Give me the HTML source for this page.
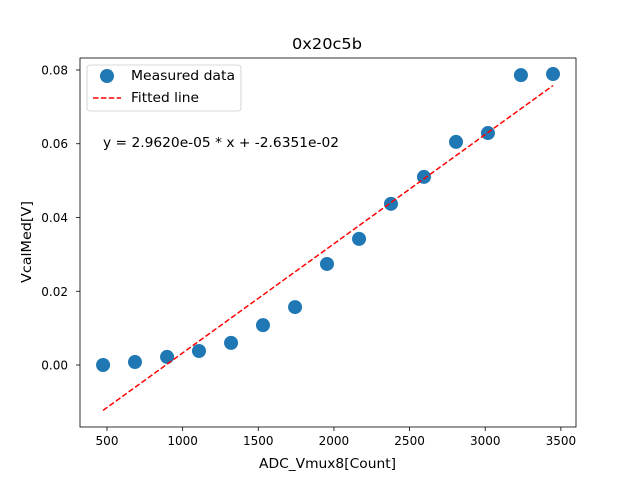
<!DOCTYPE html>
<html><head><meta charset="utf-8"><style>body{margin:0;background:#fff}svg{display:block;font-family:"DejaVu Sans","Liberation Sans",sans-serif}</style></head>
<body>
<svg id="chart" width="640" height="480"></svg>
<script>
const xValues=[474,685,897,1108,1320,1531,1743,1954,2166,2377,2595,2807,3018,3236,3448];
const yValues=[0.0,0.0008,0.0022,0.0038,0.006,0.0108,0.0157,0.0274,0.0342,0.0437,0.0510,0.0605,0.0629,0.0786,0.0789];
const xTicks=[500,1000,1500,2000,2500,3000,3500];
const yTicks=[0.00,0.02,0.04,0.06,0.08];
const slope=2.9620e-05, intercept=-2.6351e-02;
const L=80,R=576,T=58,B=427;
const xmin=321.5,xmax=3600,ymin=-0.01681,ymax=0.08325;
const sx=v=>L+(v-xmin)/(xmax-xmin)*(R-L);
const sy=v=>B-(v-ymin)/(ymax-ymin)*(B-T);
const svg=document.getElementById('chart');
const NS='http://www.w3.org/2000/svg';
function mk(t,a,txt){const e=document.createElementNS(NS,t);for(const k in a)e.setAttribute(k,a[k]);if(txt!==undefined)e.textContent=txt;svg.appendChild(e);return e;}
let e;
e=mk('text',{x:292,y:49,'font-size':15,textLength:70,lengthAdjust:'spacingAndGlyphs'},'0x20c5b');


xTicks.forEach(t=>{const x=sx(t);
e=mk('line',{x1:x,x2:x,y1:B,y2:B+4,stroke:'#000','stroke-width':0.8});


e=mk('text',{x:x,y:B+18,'font-size':12,'text-anchor':'middle'},String(t));

});
yTicks.forEach(t=>{const y=sy(t);
e=mk('line',{x1:L-4,x2:L,y1:y,y2:y,stroke:'#000','stroke-width':0.8});


e=mk('text',{x:L-12,y:y+4.5,'font-size':12,'text-anchor':'end'},t.toFixed(2));

});
e=mk('text',{x:259,y:468,'font-size':13,textLength:137,lengthAdjust:'spacingAndGlyphs'},'ADC_Vmux8[Count]');


e=mk('text',{x:0,y:0,'font-size':13,textLength:82,lengthAdjust:'spacingAndGlyphs',transform:'translate(31,283) rotate(-90)'},'VcalMed[V]');


xValues.forEach((v,i)=>{e=mk('circle',{cx:sx(v),cy:sy(yValues[i]),r:7,fill:'#1f77b4'});

});
const x0=xValues[0],x1=xValues[xValues.length-1];
e=mk('line',{x1:sx(x0),y1:sy(slope*x0+intercept),x2:sx(x1),y2:sy(slope*x1+intercept),stroke:'#ff0000','stroke-width':1.5,'stroke-dasharray':'5.5,2.4'});


e=mk('rect',{x:L,y:T,width:R-L,height:B-T,fill:'none',stroke:'#000','stroke-width':0.8});


e=mk('text',{x:103,y:147,'font-size':13,textLength:236,lengthAdjust:'spacingAndGlyphs'},'y = 2.9620e-05 * x + -2.6351e-02');


e=mk('rect',{x:87,y:65,width:154,height:46,rx:3,fill:'#fff','fill-opacity':0.8,stroke:'#ccc','stroke-width':0.8});


e=mk('circle',{cx:107,cy:76,r:7,fill:'#1f77b4'});


e=mk('text',{x:131,y:80,'font-size':13,textLength:104,lengthAdjust:'spacingAndGlyphs'},'Measured data');


e=mk('line',{x1:93,x2:121,y1:98,y2:98,stroke:'#ff0000','stroke-width':1.5,'stroke-dasharray':'5.5,2.4'});


e=mk('text',{x:131,y:102,'font-size':13,textLength:68,lengthAdjust:'spacingAndGlyphs'},'Fitted line');


</script>
</body></html>
